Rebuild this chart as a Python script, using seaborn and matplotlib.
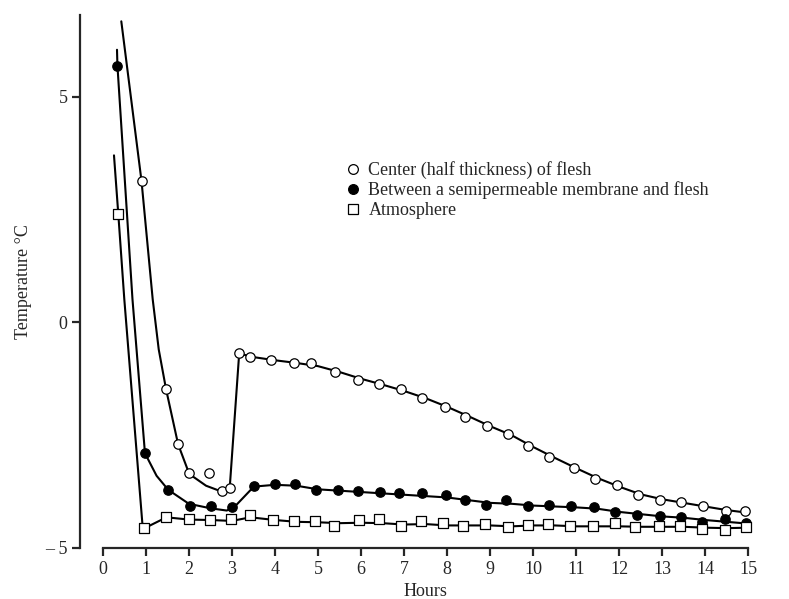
import numpy as np
import pandas as pd
import matplotlib
matplotlib.use("Agg")
import matplotlib.pyplot as plt
from matplotlib.lines import Line2D
import seaborn as sns

# measured points (markers)
center_x = [0.90, 1.47, 1.75, 2.01, 2.47, 2.76, 2.95, 3.17, 3.43, 3.92, 4.45, 4.84, 5.40, 5.94,
            6.43, 6.92, 7.43, 7.95, 8.42, 8.92, 9.43, 9.89, 10.37, 10.95, 11.44, 11.96, 12.45,
            12.95, 13.44, 13.95, 14.49, 14.93]
center_y = [3.13, -1.48, -2.70, -3.34, -3.33, -3.73, -3.67, -0.69, -0.76, -0.84, -0.91, -0.89,
            -1.11, -1.28, -1.37, -1.48, -1.67, -1.87, -2.09, -2.29, -2.48, -2.74, -2.98, -3.22,
            -3.47, -3.61, -3.83, -3.93, -3.99, -4.06, -4.19, -4.17]

membrane_x = [0.34, 0.98, 1.52, 2.02, 2.51, 3.01, 3.51, 4.00, 4.47, 4.95, 5.46, 5.94, 6.44, 6.89,
              7.41, 7.98, 8.42, 8.91, 9.37, 9.88, 10.37, 10.88, 11.42, 11.91, 12.41, 12.95,
              13.44, 13.92, 14.47, 14.94]
membrane_y = [5.69, -2.90, -3.71, -4.08, -4.07, -4.10, -3.63, -3.58, -3.59, -3.72, -3.71, -3.73,
              -3.75, -3.78, -3.79, -3.82, -3.93, -4.05, -3.93, -4.08, -4.05, -4.08, -4.10, -4.21,
              -4.27, -4.28, -4.32, -4.43, -4.36, -4.45]

atmos_x = [0.36, 0.95, 1.48, 2.00, 2.49, 2.99, 3.43, 3.95, 4.44, 4.93, 5.37, 5.95, 6.42, 6.92,
           7.39, 7.91, 8.38, 8.88, 9.43, 9.89, 10.36, 10.86, 11.40, 11.91, 12.37, 12.92, 13.42,
           13.92, 14.47, 14.94]
atmos_y = [2.40, -4.56, -4.32, -4.36, -4.37, -4.36, -4.27, -4.37, -4.40, -4.40, -4.52, -4.37,
           -4.36, -4.51, -4.40, -4.45, -4.52, -4.46, -4.54, -4.49, -4.47, -4.52, -4.52, -4.45,
           -4.54, -4.52, -4.51, -4.57, -4.60, -4.54]

# fitted curves drawn by hand in the original
center_line_x = [0.43, 0.90, 1.16, 1.30, 1.47, 1.75, 2.01, 2.40, 2.79, 2.95, 3.17, 3.50, 4.0, 4.5,
                 5.0, 5.5, 6.0, 6.5, 7.0, 7.5, 8.0, 8.5, 9.0, 9.5, 10.0, 10.5, 11.0, 11.5, 12.0,
                 12.5, 13.0, 13.5, 14.0, 14.5, 15.0]
center_line_y = [6.67, 3.13, 0.51, -0.60, -1.48, -2.70, -3.36, -3.62, -3.76, -3.67, -0.69, -0.77,
                 -0.84, -0.90, -0.97, -1.10, -1.25, -1.38, -1.52, -1.68, -1.87, -2.08, -2.30,
                 -2.50, -2.76, -3.00, -3.23, -3.45, -3.64, -3.81, -3.92, -4.00, -4.08, -4.16,
                 -4.22]

membrane_line_x = [0.33, 0.34, 0.69, 0.98, 1.25, 1.52, 2.0, 2.5, 2.88, 3.05, 3.30, 3.51, 4.0,
                   4.5, 5.0, 5.5, 6.0, 6.5, 7.0, 7.5, 8.0, 8.5, 9.0, 9.5, 10.0, 10.5, 11.0, 11.5,
                   12.0, 12.5, 13.0, 13.5, 14.0, 14.5, 15.0]
membrane_line_y = [6.04, 5.69, 0.51, -2.90, -3.40, -3.71, -4.02, -4.12, -4.17, -4.10, -3.85,
                   -3.64, -3.60, -3.62, -3.70, -3.73, -3.76, -3.79, -3.82, -3.85, -3.88, -3.94,
                   -4.00, -4.02, -4.06, -4.08, -4.10, -4.13, -4.20, -4.25, -4.30, -4.33, -4.38,
                   -4.42, -4.46]

atmos_line_x = [0.26, 0.36, 0.50, 0.93, 1.48, 2.0, 2.5, 3.0, 3.43, 4.0, 4.5, 5.0, 5.5, 6.0, 6.5,
                7.0, 7.5, 8.0, 8.5, 9.0, 9.5, 10.0, 10.5, 11.0, 11.5, 12.0, 12.5, 13.0, 13.5,
                14.0, 14.5, 15.0]
atmos_line_y = [3.70, 2.40, 0.51, -4.58, -4.32, -4.37, -4.38, -4.40, -4.32, -4.38, -4.42, -4.43,
                -4.45, -4.44, -4.45, -4.48, -4.47, -4.50, -4.50, -4.50, -4.52, -4.50, -4.50,
                -4.52, -4.52, -4.52, -4.53, -4.53, -4.53, -4.55, -4.56, -4.55]

labels = ["Center (half thickness) of flesh",
          "Between a semipermeable membrane and flesh",
          "Atmosphere"]

sns.set_style("ticks")
plt.rcParams["font.family"] = ["Liberation Serif", "DejaVu Serif"]

fig = plt.figure(figsize=(7.89, 5.99), dpi=100)
ax = fig.add_axes([80 / 789, 51 / 599, 675 / 789, 533 / 599])

lw = 1.5
for lx, ly in [(center_line_x, center_line_y),
               (membrane_line_x, membrane_line_y),
               (atmos_line_x, atmos_line_y)]:
    sns.lineplot(x=lx, y=ly, ax=ax, color="black", lw=lw, sort=False,
                 estimator=None, zorder=2)

ms = 46
sns.scatterplot(x=center_x, y=center_y, ax=ax, marker="o", s=ms, facecolor="white",
                edgecolor="black", linewidth=0.9, zorder=3)
sns.scatterplot(x=membrane_x, y=membrane_y, ax=ax, marker="o", s=ms, facecolor="black",
                edgecolor="black", linewidth=0.9, zorder=3)
sns.scatterplot(x=atmos_x, y=atmos_y, ax=ax, marker="s", s=ms, facecolor="white",
                edgecolor="black", linewidth=0.9, zorder=4)

ax.set_xlim(-0.53, 15.16)
ax.set_ylim(-5, 6.81)
ax.set_xticks(range(0, 16))
ax.set_yticks([-5, 0, 5])
ax.set_yticklabels(["– 5", "0", "5"])
sns.despine(ax=ax)
ax.spines["bottom"].set_bounds(0, 15)
for s in ["left", "bottom"]:
    ax.spines[s].set_linewidth(1.6)
ax.tick_params(axis="both", direction="out", length=6, width=1.6, labelsize=13, pad=3)

ax.set_xlabel("Hours", fontsize=13, labelpad=4)
ax.xaxis.label.set_x((425 - 80) / 675)
ax.set_ylabel("Temperature °C", fontsize=13, labelpad=9)

handles = [
    Line2D([], [], ls="none", marker="o", ms=7, mfc="white", mec="black", mew=0.9),
    Line2D([], [], ls="none", marker="o", ms=7, mfc="black", mec="black", mew=0.9),
    Line2D([], [], ls="none", marker="s", ms=7, mfc="white", mec="black", mew=0.9),
]
ax.legend(handles, labels, loc="upper left", frameon=False, fontsize=13,
          bbox_to_anchor=(344 / 789, 1 - 161 / 599), bbox_transform=fig.transFigure,
          borderpad=0, borderaxespad=0, handlelength=1.0, handletextpad=0.35,
          labelspacing=0.14)

fig.savefig("out.png", dpi=100)
